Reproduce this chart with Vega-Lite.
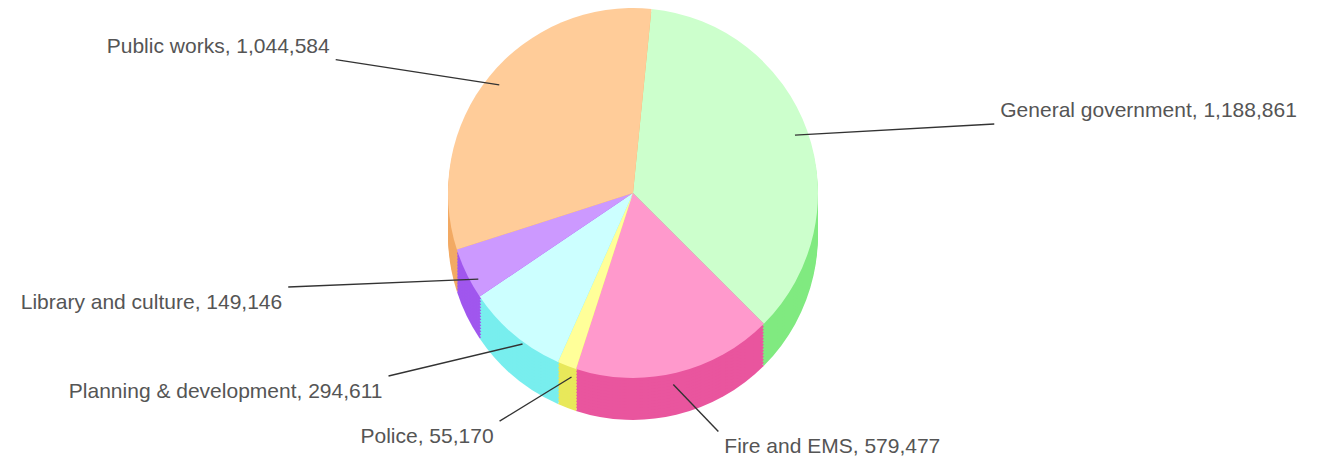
{
  "$schema": "https://vega.github.io/schema/vega-lite/v6.json",
  "width": 1266,
  "height": 386,
  "autosize": {"type": "none"},
  "padding": {"left": 0, "top": 0, "right": 62, "bottom": 77},
  "background": "white",
  "config": {"view": {"stroke": null}},
  "data": {
    "values": [
      {"category": "General government", "value": 1188861, "order": 1},
      {"category": "Fire and EMS", "value": 579477, "order": 2},
      {"category": "Police", "value": 55170, "order": 3},
      {"category": "Planning & development", "value": 294611, "order": 4},
      {"category": "Library and culture", "value": 149146, "order": 5},
      {"category": "Public works", "value": 1044584, "order": 6}
    ]
  },
  "transform": [
    {"window": [{"op": "sum", "field": "value", "as": "cum"}], "sort": [{"field": "order", "order": "ascending"}], "frame": [null, 0]},
    {"joinaggregate": [{"op": "sum", "field": "value", "as": "total"}]},
    {"calculate": "datum.cum - datum.value", "as": "start"},
    {"calculate": "0.1 + 2*PI*(datum.cum - datum.value/2)/datum.total", "as": "mid"},
    {"calculate": "sin(datum.mid)", "as": "s"},
    {"calculate": "cos(datum.mid)", "as": "c"},
    {"calculate": "633 + 390*datum.s", "as": "lx"},
    {"calculate": "185 - 220*datum.c + 50*max(0, -datum.c)", "as": "ly"},
    {"calculate": "633 + 172*datum.s", "as": "sx"},
    {"calculate": "193 - 172*datum.c + 25*max(0, -datum.c)", "as": "sy"},
    {"calculate": "datum.lx - (datum.s < 0 ? -6 : 6)", "as": "ex"},
    {"calculate": "datum.ly + (datum.c > 0 ? 13 : -16)", "as": "ey"},
    {"calculate": "datum.category + ', ' + format(datum.value, ',')", "as": "label"}
  ],
  "encoding": {
    "theta": {"field": "start", "type": "quantitative", "stack": null, "scale": {"domain": [0, 3311849], "range": [0.1, 6.383185]}},
    "theta2": {"field": "cum"}
  },
  "layer": [
    {"mark": {"type": "arc", "radius": 185, "yOffset": 42}, "encoding": {"color": {"field": "category", "type": "nominal", "legend": null, "scale": {"domain": ["General government", "Fire and EMS", "Police", "Planning & development", "Library and culture", "Public works"], "range": ["#80EA80", "#E9559E", "#E8E85A", "#78EEEE", "#A057EE", "#F2AA64"]}}}},
    {"mark": {"type": "arc", "radius": 185, "yOffset": 39}, "encoding": {"color": {"field": "category", "type": "nominal", "legend": null, "scale": {"domain": ["General government", "Fire and EMS", "Police", "Planning & development", "Library and culture", "Public works"], "range": ["#80EA80", "#E9559E", "#E8E85A", "#78EEEE", "#A057EE", "#F2AA64"]}}}},
    {"mark": {"type": "arc", "radius": 185, "yOffset": 36}, "encoding": {"color": {"field": "category", "type": "nominal", "legend": null, "scale": {"domain": ["General government", "Fire and EMS", "Police", "Planning & development", "Library and culture", "Public works"], "range": ["#80EA80", "#E9559E", "#E8E85A", "#78EEEE", "#A057EE", "#F2AA64"]}}}},
    {"mark": {"type": "arc", "radius": 185, "yOffset": 33}, "encoding": {"color": {"field": "category", "type": "nominal", "legend": null, "scale": {"domain": ["General government", "Fire and EMS", "Police", "Planning & development", "Library and culture", "Public works"], "range": ["#80EA80", "#E9559E", "#E8E85A", "#78EEEE", "#A057EE", "#F2AA64"]}}}},
    {"mark": {"type": "arc", "radius": 185, "yOffset": 30}, "encoding": {"color": {"field": "category", "type": "nominal", "legend": null, "scale": {"domain": ["General government", "Fire and EMS", "Police", "Planning & development", "Library and culture", "Public works"], "range": ["#80EA80", "#E9559E", "#E8E85A", "#78EEEE", "#A057EE", "#F2AA64"]}}}},
    {"mark": {"type": "arc", "radius": 185, "yOffset": 27}, "encoding": {"color": {"field": "category", "type": "nominal", "legend": null, "scale": {"domain": ["General government", "Fire and EMS", "Police", "Planning & development", "Library and culture", "Public works"], "range": ["#80EA80", "#E9559E", "#E8E85A", "#78EEEE", "#A057EE", "#F2AA64"]}}}},
    {"mark": {"type": "arc", "radius": 185, "yOffset": 24}, "encoding": {"color": {"field": "category", "type": "nominal", "legend": null, "scale": {"domain": ["General government", "Fire and EMS", "Police", "Planning & development", "Library and culture", "Public works"], "range": ["#80EA80", "#E9559E", "#E8E85A", "#78EEEE", "#A057EE", "#F2AA64"]}}}},
    {"mark": {"type": "arc", "radius": 185, "yOffset": 21}, "encoding": {"color": {"field": "category", "type": "nominal", "legend": null, "scale": {"domain": ["General government", "Fire and EMS", "Police", "Planning & development", "Library and culture", "Public works"], "range": ["#80EA80", "#E9559E", "#E8E85A", "#78EEEE", "#A057EE", "#F2AA64"]}}}},
    {"mark": {"type": "arc", "radius": 185, "yOffset": 18}, "encoding": {"color": {"field": "category", "type": "nominal", "legend": null, "scale": {"domain": ["General government", "Fire and EMS", "Police", "Planning & development", "Library and culture", "Public works"], "range": ["#80EA80", "#E9559E", "#E8E85A", "#78EEEE", "#A057EE", "#F2AA64"]}}}},
    {"mark": {"type": "arc", "radius": 185, "yOffset": 15}, "encoding": {"color": {"field": "category", "type": "nominal", "legend": null, "scale": {"domain": ["General government", "Fire and EMS", "Police", "Planning & development", "Library and culture", "Public works"], "range": ["#80EA80", "#E9559E", "#E8E85A", "#78EEEE", "#A057EE", "#F2AA64"]}}}},
    {"mark": {"type": "arc", "radius": 185, "yOffset": 12}, "encoding": {"color": {"field": "category", "type": "nominal", "legend": null, "scale": {"domain": ["General government", "Fire and EMS", "Police", "Planning & development", "Library and culture", "Public works"], "range": ["#80EA80", "#E9559E", "#E8E85A", "#78EEEE", "#A057EE", "#F2AA64"]}}}},
    {"mark": {"type": "arc", "radius": 185, "yOffset": 9}, "encoding": {"color": {"field": "category", "type": "nominal", "legend": null, "scale": {"domain": ["General government", "Fire and EMS", "Police", "Planning & development", "Library and culture", "Public works"], "range": ["#80EA80", "#E9559E", "#E8E85A", "#78EEEE", "#A057EE", "#F2AA64"]}}}},
    {"mark": {"type": "arc", "radius": 185, "yOffset": 6}, "encoding": {"color": {"field": "category", "type": "nominal", "legend": null, "scale": {"domain": ["General government", "Fire and EMS", "Police", "Planning & development", "Library and culture", "Public works"], "range": ["#80EA80", "#E9559E", "#E8E85A", "#78EEEE", "#A057EE", "#F2AA64"]}}}},
    {"mark": {"type": "arc", "radius": 185, "yOffset": 3}, "encoding": {"color": {"field": "category", "type": "nominal", "legend": null, "scale": {"domain": ["General government", "Fire and EMS", "Police", "Planning & development", "Library and culture", "Public works"], "range": ["#80EA80", "#E9559E", "#E8E85A", "#78EEEE", "#A057EE", "#F2AA64"]}}}},
    {"mark": {"type": "arc", "radius": 185}, "encoding": {"color": {"field": "category", "type": "nominal", "legend": null, "scale": {"domain": ["General government", "Fire and EMS", "Police", "Planning & development", "Library and culture", "Public works"], "range": ["#CCFFCC", "#FF99CC", "#FFFF99", "#CCFFFF", "#CC99FF", "#FFCC99"]}}}},
    {
      "mark": {"type": "rule", "color": "#333333", "strokeWidth": 1.4},
      "encoding": {
        "theta": null, "theta2": null,
        "x": {"field": "sx", "type": "quantitative", "scale": null},
        "y": {"field": "sy", "type": "quantitative", "scale": null},
        "x2": {"field": "ex"},
        "y2": {"field": "ey"}
      }
    },
    {
      "transform": [{"filter": "datum.s >= 0"}],
      "mark": {"type": "text", "align": "left", "baseline": "middle", "font": "Liberation Sans", "fontSize": 21, "color": "#555555"},
      "encoding": {
        "theta": null, "theta2": null,
        "x": {"field": "lx", "type": "quantitative", "scale": null},
        "y": {"field": "ly", "type": "quantitative", "scale": null},
        "text": {"field": "label"}
      }
    },
    {
      "transform": [{"filter": "datum.s < 0"}],
      "mark": {"type": "text", "align": "right", "baseline": "middle", "font": "Liberation Sans", "fontSize": 21, "color": "#555555"},
      "encoding": {
        "theta": null, "theta2": null,
        "x": {"field": "lx", "type": "quantitative", "scale": null},
        "y": {"field": "ly", "type": "quantitative", "scale": null},
        "text": {"field": "label"}
      }
    }
  ],
  "resolve": {"scale": {"color": "independent", "theta": "shared"}}
}
